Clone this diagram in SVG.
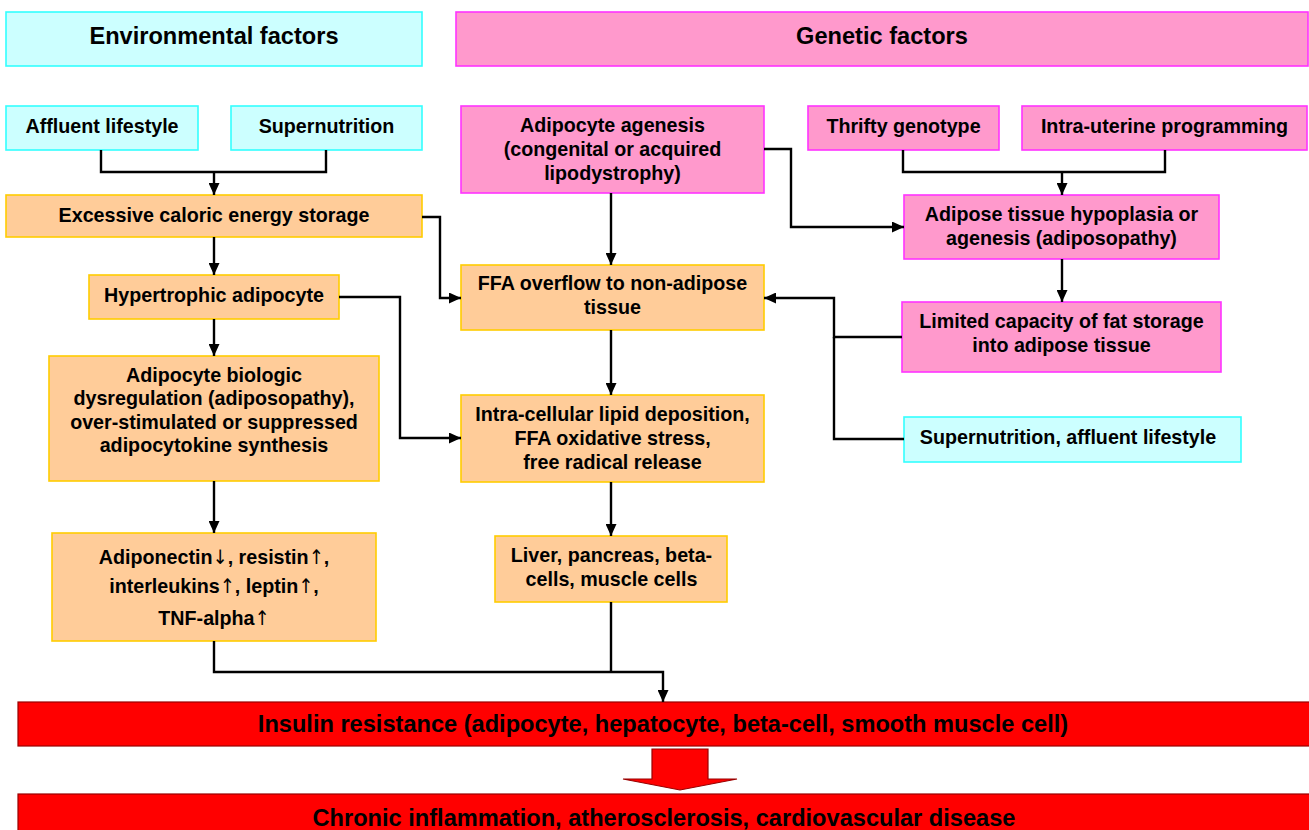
<svg xmlns="http://www.w3.org/2000/svg" width="1309" height="830" viewBox="0 0 1309 830">
<defs>
<style>
text{font-family:"Liberation Sans",Arial,sans-serif;font-weight:bold;fill:#000;text-anchor:middle}
.t{font-size:19.7px}
.h{font-size:23.6px}
.env{fill:#ccffff;stroke:#33ffff;stroke-width:1.6}
.gen{fill:#ff99cc;stroke:#ff33ff;stroke-width:1.6}
.proc{fill:#ffcc99;stroke:#ffcc00;stroke-width:1.6}
.red{fill:#ff0000;stroke:#990000;stroke-width:1.2}
.ar{font-family:"DejaVu Sans Condensed","DejaVu Sans",sans-serif;font-weight:normal;font-size:20px;fill:#000}
#connectors path{fill:none;stroke:#000;stroke-width:2.4}
</style>
<marker id="ah" markerUnits="userSpaceOnUse" markerWidth="12" markerHeight="11" refX="12" refY="5.5" orient="auto">
<path d="M0,0 L12,5.5 L0,11 z" fill="#000"/>
</marker>
</defs>
<rect width="1309" height="830" fill="#fff"/>

<g id="env-header"><rect class="env" x="6" y="12" width="416" height="54"/><text class="h" x="214" y="44">Environmental factors</text></g>
<g id="gen-header"><rect class="gen" x="456" y="12" width="852" height="54"/><text class="h" x="882" y="44">Genetic factors</text></g>

<g id="affluent"><rect class="env" x="6" y="106" width="192" height="44"/><text class="t" x="102" y="133">Affluent lifestyle</text></g>
<g id="supernutrition"><rect class="env" x="231" y="106" width="191" height="44"/><text class="t" x="326.5" y="133">Supernutrition</text></g>
<g id="excessive"><rect class="proc" x="6" y="195" width="416" height="42"/><text class="t" x="214" y="222">Excessive caloric energy storage</text></g>
<g id="hypertrophic"><rect class="proc" x="89" y="275" width="250" height="44"/><text class="t" x="214" y="302">Hypertrophic adipocyte</text></g>
<g id="dysregulation"><rect class="proc" x="49" y="356" width="330" height="125"/>
<text class="t" x="214" y="382">Adipocyte biologic</text>
<text class="t" x="214" y="405">dysregulation (adiposopathy),</text>
<text class="t" x="214" y="428.5">over-stimulated or suppressed</text>
<text class="t" x="214" y="452">adipocytokine synthesis</text></g>
<g id="adipokines"><rect class="proc" x="52" y="533" width="324" height="108"/>
<text class="t" x="214" y="564">Adiponectin<tspan class="ar">↓</tspan>, resistin<tspan class="ar">↑</tspan>,</text>
<text class="t" x="214" y="593">interleukins<tspan class="ar">↑</tspan>, leptin<tspan class="ar">↑</tspan>,</text>
<text class="t" x="214" y="625">TNF-alpha<tspan class="ar">↑</tspan></text></g>

<g id="agenesis"><rect class="gen" x="461" y="106" width="303" height="87"/>
<text class="t" x="612.5" y="132">Adipocyte agenesis</text>
<text class="t" x="612.5" y="156">(congenital or acquired</text>
<text class="t" x="612.5" y="179.5">lipodystrophy)</text></g>
<g id="ffa-overflow"><rect class="proc" x="461" y="265" width="303" height="65"/>
<text class="t" x="612.5" y="290">FFA overflow to non-adipose</text>
<text class="t" x="612.5" y="314">tissue</text></g>
<g id="intracellular"><rect class="proc" x="461" y="395" width="303" height="87"/>
<text class="t" x="612.5" y="421">Intra-cellular lipid deposition,</text>
<text class="t" x="612.5" y="444.5">FFA oxidative stress,</text>
<text class="t" x="612.5" y="468.5">free radical release</text></g>
<g id="liver"><rect class="proc" x="495" y="536" width="232" height="66"/>
<text class="t" x="611.5" y="562">Liver, pancreas, beta-</text>
<text class="t" x="611.5" y="586">cells, muscle cells</text></g>

<g id="thrifty"><rect class="gen" x="808" y="106" width="191" height="44"/><text class="t" x="903.5" y="133">Thrifty genotype</text></g>
<g id="intrauterine"><rect class="gen" x="1022" y="106" width="285" height="44"/><text class="t" x="1164.5" y="133">Intra-uterine programming</text></g>
<g id="hypoplasia"><rect class="gen" x="904" y="195" width="315" height="64"/>
<text class="t" x="1061.5" y="221">Adipose tissue hypoplasia or</text>
<text class="t" x="1061.5" y="245">agenesis (adiposopathy)</text></g>
<g id="limited"><rect class="gen" x="902" y="302" width="319" height="70"/>
<text class="t" x="1061.5" y="328">Limited capacity of fat storage</text>
<text class="t" x="1061.5" y="352">into adipose tissue</text></g>
<g id="supernutrition2"><rect class="env" x="904" y="417" width="337" height="45"/><text class="t" x="1068" y="444">Supernutrition, affluent lifestyle</text></g>

<g id="insulin"><rect class="red" x="18" y="702" width="1300" height="44"/><text class="h" x="663" y="732">Insulin resistance (adipocyte, hepatocyte, beta-cell, smooth muscle cell)</text></g>
<g id="big-arrow"><path class="red" d="M652,749 H708 V779 H737 L680,790 L623,779 H652 Z"/></g>
<g id="chronic"><rect class="red" x="18" y="794" width="1300" height="50"/><text class="h" x="664" y="826">Chronic inflammation, atherosclerosis, cardiovascular disease</text></g>

<g id="connectors">
<path d="M101,150 V172 H326 V150"/>
<path d="M214,172 V195" marker-end="url(#ah)"/>
<path d="M214,237 V275" marker-end="url(#ah)"/>
<path d="M214,319 V356" marker-end="url(#ah)"/>
<path d="M214,481 V533" marker-end="url(#ah)"/>
<path d="M422,217 H440 V298 H461" marker-end="url(#ah)"/>
<path d="M339,297 H400 V438 H461" marker-end="url(#ah)"/>
<path d="M611,193 V265" marker-end="url(#ah)"/>
<path d="M764,149 H791 V227 H904" marker-end="url(#ah)"/>
<path d="M903,150 V172 H1165 V150"/>
<path d="M1062,172 V195" marker-end="url(#ah)"/>
<path d="M1062,259 V302" marker-end="url(#ah)"/>
<path d="M902,337 H834 V298 H764" marker-end="url(#ah)"/>
<path d="M904,439 H834 V337"/>
<path d="M611,330 V395" marker-end="url(#ah)"/>
<path d="M611,482 V536" marker-end="url(#ah)"/>
<path d="M214,641 V672 H663 V702" marker-end="url(#ah)"/>
<path d="M611,602 V672"/>
</g>
</svg>
